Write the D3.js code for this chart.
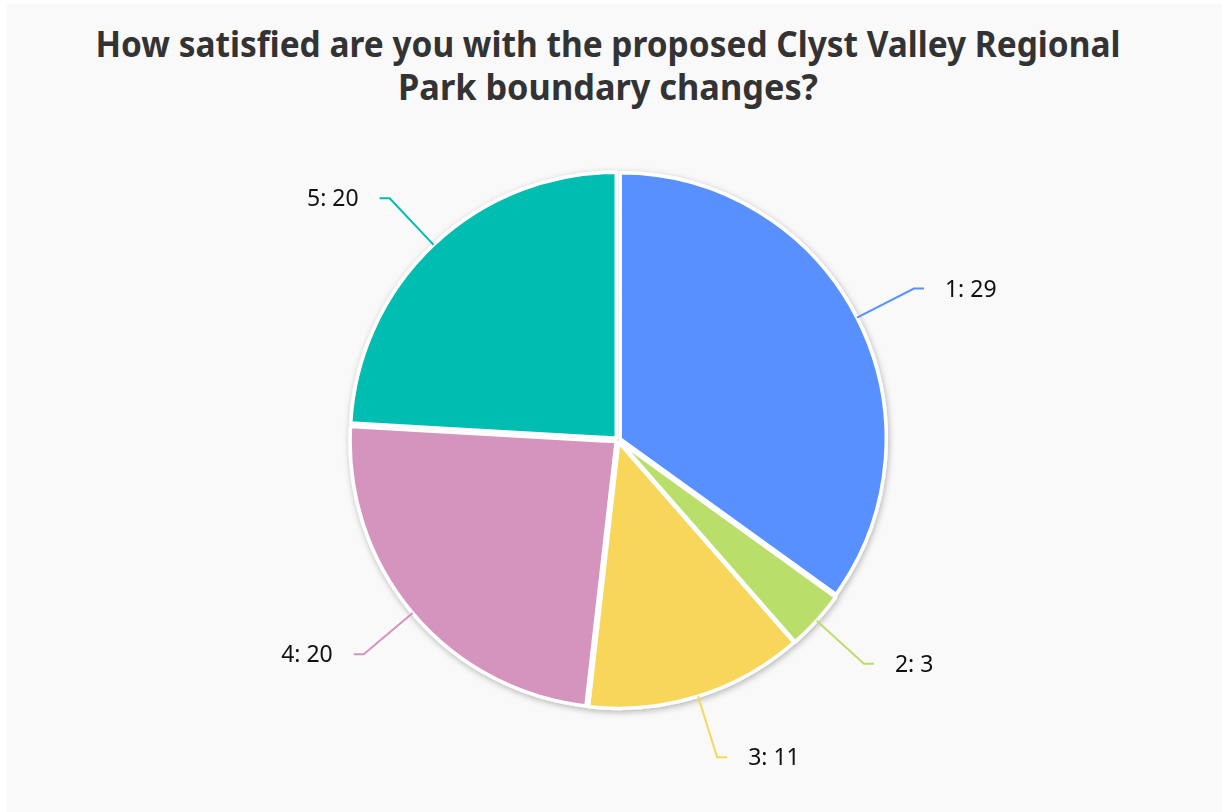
<!DOCTYPE html>
<html><head><meta charset="utf-8">
<script src="https://cdn.jsdelivr.net/npm/d3@7"></script>
<style>html,body{margin:0;padding:0;background:#fff;}svg{display:block;}</style>
</head><body>
<script>
const categories = ["1", "2", "3", "4", "5"];
const values = [29, 3, 11, 20, 20];
const colors = ["#5891ff", "#bade6b", "#f8d65a", "#d494be", "#00bdb2"];
const titleLines = ["How satisfied are you with the proposed Clyst Valley Regional", "Park boundary changes?"];

const W = 1222, H = 812;
const svg = d3.select("body").append("svg").attr("width", W).attr("height", H);
svg.append("rect").attr("x", 7).attr("y", 4).attr("width", W - 7).attr("height", H - 4).attr("fill", "#f9f9f9");

const defs = svg.append("defs");
const f = defs.append("filter").attr("id", "sh").attr("x", "-20%").attr("y", "-20%").attr("width", "140%").attr("height", "140%");
f.append("feDropShadow").attr("dx", 1).attr("dy", 2).attr("stdDeviation", 3).attr("flood-color", "#000").attr("flood-opacity", 0.28);

// title
const tw = [1025, 420];
svg.selectAll("text.title").data(titleLines).join("text")
  .attr("class", "title")
  .attr("x", 608).attr("y", (d, i) => 57 + i * 43)
  .attr("text-anchor", "middle")
  .attr("font-family", "'Noto Sans', 'Open Sans', sans-serif")
  .attr("font-weight", 700).attr("font-size", 35)
  .attr("fill", "#333333")
  .attr("textLength", (d, i) => tw[i]).attr("lengthAdjust", "spacingAndGlyphs")
  .text(d => d);

const cx = 618, cy = 440, r = 266, explode = 2.5;
const data = categories.map((c, i) => ({ cat: c, value: values[i], color: colors[i] }));
const pie = d3.pie().value(d => d.value).sort(null);
const arcs = pie(data);
const arc = d3.arc().innerRadius(0).outerRadius(r);

const g = svg.append("g").attr("transform", `translate(${cx},${cy})`);
const sg = g.append("g").attr("filter", "url(#sh)");
sg.selectAll("path").data(arcs).join("path")
  .attr("d", arc)
  .attr("transform", d => {
    const a = (d.startAngle + d.endAngle) / 2;
    return `translate(${explode * Math.sin(a)},${-explode * Math.cos(a)})`;
  })
  .attr("fill", d => d.data.color)
  .attr("stroke", "#fff").attr("stroke-width", 3.5).attr("stroke-linejoin", "round");

// leader lines & labels
const lg = g.append("g");
arcs.forEach(d => {
  const a = (d.startAngle + d.endAngle) / 2;
  const sx = Math.sin(a), sy = -Math.cos(a);
  const p0 = [(r + explode) * sx, (r + explode) * sy];
  const p1 = [r * 1.25 * sx, r * 1.25 * sy];
  const right = sx >= 0;
  const p2 = [p1[0] + (right ? 10 : -10), p1[1]];
  lg.append("polyline")
    .attr("points", [p0, p1, p2].map(p => p.join(",")).join(" "))
    .attr("fill", "none").attr("stroke", d.data.color).attr("stroke-width", 2);
  lg.append("text")
    .attr("x", p2[0] + (right ? 21 : -21)).attr("y", p2[1] + 8)
    .attr("text-anchor", right ? "start" : "end")
    .attr("font-family", "'Noto Sans', 'Open Sans', sans-serif")
    .attr("font-size", 23).attr("fill", "#111")
    .text(`${d.data.cat}: ${d.data.value}`);
});
</script>
</body></html>
